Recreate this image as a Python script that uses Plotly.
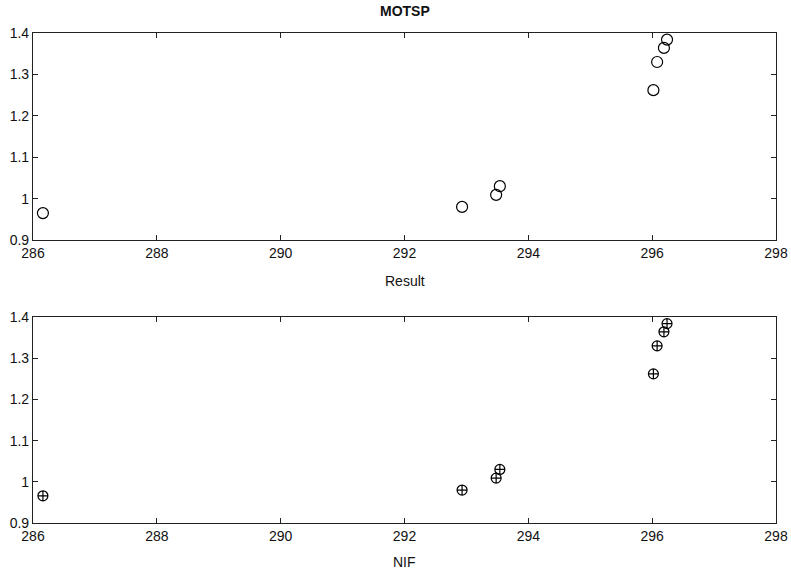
import plotly.graph_objects as go

# Data
x_vals = [286.16, 292.93, 293.48, 293.54, 296.02, 296.08, 296.19, 296.24]
y_result = [0.965, 0.980, 1.009, 1.030, 1.262, 1.330, 1.364, 1.384]
y_nif = [0.966, 0.980, 1.009, 1.030, 1.262, 1.330, 1.364, 1.384]

x_ticks = [286, 288, 290, 292, 294, 296, 298]
y_ticks = [0.9, 1.0, 1.1, 1.2, 1.3, 1.4]
y_tick_text = ["0.9", "1", "1.1", "1.2", "1.3", "1.4"]

W, H = 791, 571
fig = go.Figure()
fig.add_trace(go.Scatter(x=x_vals, y=y_result, mode="markers",
                         marker=dict(symbol="circle-open", size=11, color="black",
                                     line=dict(width=1.2, color="black")),
                         xaxis="x", yaxis="y", showlegend=False, cliponaxis=False))
fig.add_trace(go.Scatter(x=x_vals, y=y_nif, mode="markers",
                         marker=dict(symbol="circle-cross-open", size=10, color="black",
                                     line=dict(width=1.2, color="black")),
                         xaxis="x2", yaxis="y2", showlegend=False, cliponaxis=False))

font = dict(family="Liberation Sans, Arial, sans-serif", size=14, color="#111111")
axcommon = dict(showgrid=False, zeroline=False, showline=True, linecolor="#222222",
                linewidth=1.2, mirror="ticks", ticks="inside", ticklen=5,
                tickcolor="#222222", tickfont=font, automargin=False)

xd = [33 / W, 776 / W]
fig.update_layout(
    width=W, height=H, margin=dict(l=0, r=0, t=0, b=0, autoexpand=False),
    paper_bgcolor="white", plot_bgcolor="white", font=font,
    xaxis=dict(domain=xd, range=[286, 298], tickvals=x_ticks, anchor="y", **axcommon),
    yaxis=dict(domain=[1 - 240 / H, 1 - 33 / H], range=[0.9, 1.4], tickvals=y_ticks,
               ticktext=y_tick_text, anchor="x", **axcommon),
    xaxis2=dict(domain=xd, range=[286, 298], tickvals=x_ticks, anchor="y2", **axcommon),
    yaxis2=dict(domain=[1 - 523 / H, 1 - 317 / H], range=[0.9, 1.4], tickvals=y_ticks,
                ticktext=y_tick_text, anchor="x2", **axcommon),
    annotations=[
        dict(text="<b>MOTSP</b>", x=(33 + 776) / 2 / W, y=1 - 11 / H, xref="paper", yref="paper",
             showarrow=False, font=dict(family="Liberation Sans, Arial, sans-serif", size=14, color="#111111"),
             xanchor="center", yanchor="middle"),
        dict(text="Result", x=(33 + 776) / 2 / W, y=1 - 281 / H, xref="paper", yref="paper",
             showarrow=False, font=font, xanchor="center", yanchor="middle"),
        dict(text="NIF", x=(33 + 776) / 2 / W, y=1 - 562 / H, xref="paper", yref="paper",
             showarrow=False, font=font, xanchor="center", yanchor="middle"),
    ],
)

fig.write_html("out.html")
